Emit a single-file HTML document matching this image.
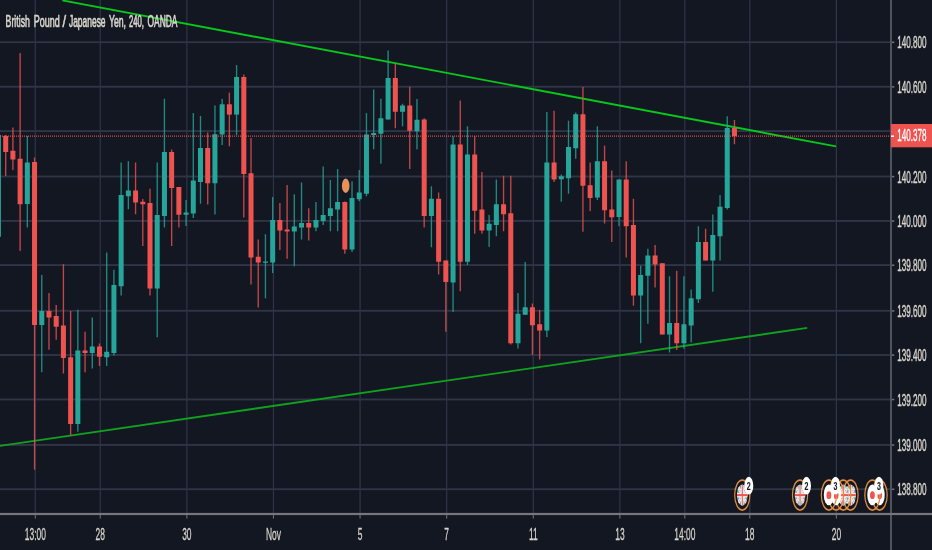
<!DOCTYPE html>
<html lang="en"><head><meta charset="utf-8"><title>GBPJPY chart</title>
<style>html,body{margin:0;padding:0;background:#131722;}body{width:932px;height:550px;overflow:hidden;position:relative;}svg{display:block;position:absolute;left:0;top:0;}text{font-family:"Liberation Sans",Arial,sans-serif;}.t{filter:opacity(0.999);}</style></head><body>
<svg width="932" height="550" viewBox="0 0 932 550">
<rect x="0" y="0" width="932" height="550" fill="#131722"/>
<g fill="#2f3447">
<rect x="0" y="41.25" width="891.00" height="1.90"/>
<rect x="0" y="85.81" width="891.00" height="1.90"/>
<rect x="0" y="130.10" width="891.00" height="1.90"/>
<rect x="0" y="175.55" width="891.00" height="1.90"/>
<rect x="0" y="219.95" width="891.00" height="1.90"/>
<rect x="0" y="264.15" width="891.00" height="1.90"/>
<rect x="0" y="309.85" width="891.00" height="1.90"/>
<rect x="0" y="354.05" width="891.00" height="1.90"/>
<rect x="0" y="398.50" width="891.00" height="1.90"/>
<rect x="0" y="444.00" width="891.00" height="1.90"/>
<rect x="0" y="488.25" width="891.00" height="1.90"/>
<rect x="34.67" y="0" width="1.25" height="514.00"/>
<rect x="99.63" y="0" width="1.25" height="514.00"/>
<rect x="186.23" y="0" width="1.25" height="514.00"/>
<rect x="272.84" y="0" width="1.25" height="514.00"/>
<rect x="359.44" y="0" width="1.25" height="514.00"/>
<rect x="446.04" y="0" width="1.25" height="514.00"/>
<rect x="532.65" y="0" width="1.25" height="514.00"/>
<rect x="619.25" y="0" width="1.25" height="514.00"/>
<rect x="684.20" y="0" width="1.25" height="514.00"/>
<rect x="749.16" y="0" width="1.25" height="514.00"/>
<rect x="835.76" y="0" width="1.25" height="514.00"/>
</g>
<line x1="62.30" y1="0.40" x2="836.00" y2="146.40" stroke="#08c81c" stroke-width="1.90"/>
<line x1="-1.00" y1="446.05" x2="807.20" y2="327.90" stroke="#10a21e" stroke-width="1.90"/>
<g>
<rect x="-2.28" y="135.00" width="1.35" height="101.75" fill="#26a69a" opacity="0.80"/>
<rect x="-4.10" y="135.00" width="5.00" height="101.75" fill="#26a69a"/>
<rect x="5.01" y="135.00" width="1.35" height="41.00" fill="#ef5350" opacity="0.80"/>
<rect x="3.19" y="136.00" width="5.00" height="16.00" fill="#ef5350"/>
<rect x="12.23" y="127.50" width="1.35" height="42.50" fill="#ef5350" opacity="0.80"/>
<rect x="10.40" y="150.75" width="5.00" height="8.75" fill="#ef5350"/>
<rect x="19.44" y="53.00" width="1.35" height="198.00" fill="#ef5350" opacity="0.80"/>
<rect x="17.62" y="158.75" width="5.00" height="45.50" fill="#ef5350"/>
<rect x="26.66" y="136.00" width="1.35" height="91.50" fill="#26a69a" opacity="0.80"/>
<rect x="24.83" y="162.50" width="5.00" height="41.50" fill="#26a69a"/>
<rect x="33.88" y="157.50" width="1.35" height="312.25" fill="#ef5350" opacity="0.80"/>
<rect x="32.05" y="162.00" width="5.00" height="163.00" fill="#ef5350"/>
<rect x="41.09" y="275.00" width="1.35" height="97.25" fill="#26a69a" opacity="0.80"/>
<rect x="39.27" y="311.00" width="5.00" height="14.00" fill="#26a69a"/>
<rect x="48.31" y="293.00" width="1.35" height="56.75" fill="#ef5350" opacity="0.80"/>
<rect x="46.48" y="311.00" width="5.00" height="6.50" fill="#ef5350"/>
<rect x="55.52" y="305.00" width="1.35" height="34.75" fill="#ef5350" opacity="0.80"/>
<rect x="53.70" y="316.00" width="5.00" height="10.75" fill="#ef5350"/>
<rect x="62.74" y="264.25" width="1.35" height="109.25" fill="#ef5350" opacity="0.80"/>
<rect x="60.91" y="325.50" width="5.00" height="32.50" fill="#ef5350"/>
<rect x="69.95" y="311.00" width="1.35" height="124.50" fill="#ef5350" opacity="0.80"/>
<rect x="68.13" y="357.25" width="5.00" height="66.75" fill="#ef5350"/>
<rect x="77.17" y="309.75" width="1.35" height="122.00" fill="#26a69a" opacity="0.80"/>
<rect x="75.34" y="350.50" width="5.00" height="73.50" fill="#26a69a"/>
<rect x="84.38" y="331.75" width="1.35" height="40.50" fill="#ef5350" opacity="0.80"/>
<rect x="82.56" y="350.50" width="5.00" height="2.50" fill="#ef5350"/>
<rect x="91.60" y="317.50" width="1.35" height="51.00" fill="#26a69a" opacity="0.80"/>
<rect x="89.77" y="346.50" width="5.00" height="6.50" fill="#26a69a"/>
<rect x="98.81" y="343.50" width="1.35" height="22.50" fill="#ef5350" opacity="0.80"/>
<rect x="96.99" y="346.50" width="5.00" height="10.25" fill="#ef5350"/>
<rect x="106.03" y="252.50" width="1.35" height="113.50" fill="#26a69a" opacity="0.80"/>
<rect x="104.20" y="351.75" width="5.00" height="5.50" fill="#26a69a"/>
<rect x="113.25" y="269.75" width="1.35" height="85.75" fill="#26a69a" opacity="0.80"/>
<rect x="111.42" y="285.00" width="5.00" height="68.00" fill="#26a69a"/>
<rect x="120.46" y="162.50" width="1.35" height="133.00" fill="#26a69a" opacity="0.80"/>
<rect x="118.64" y="195.00" width="5.00" height="91.25" fill="#26a69a"/>
<rect x="127.68" y="161.25" width="1.35" height="48.00" fill="#26a69a" opacity="0.80"/>
<rect x="125.85" y="190.50" width="5.00" height="5.75" fill="#26a69a"/>
<rect x="134.89" y="162.50" width="1.35" height="51.75" fill="#ef5350" opacity="0.80"/>
<rect x="133.07" y="190.50" width="5.00" height="12.00" fill="#ef5350"/>
<rect x="142.11" y="199.00" width="1.35" height="47.00" fill="#ef5350" opacity="0.80"/>
<rect x="140.28" y="201.75" width="5.00" height="2.50" fill="#ef5350"/>
<rect x="149.32" y="188.75" width="1.35" height="106.75" fill="#ef5350" opacity="0.80"/>
<rect x="147.50" y="203.00" width="5.00" height="85.50" fill="#ef5350"/>
<rect x="156.54" y="162.50" width="1.35" height="174.75" fill="#26a69a" opacity="0.80"/>
<rect x="154.71" y="215.00" width="5.00" height="73.50" fill="#26a69a"/>
<rect x="163.75" y="98.75" width="1.35" height="128.75" fill="#26a69a" opacity="0.80"/>
<rect x="161.93" y="152.00" width="5.00" height="64.00" fill="#26a69a"/>
<rect x="170.97" y="149.50" width="1.35" height="96.50" fill="#ef5350" opacity="0.80"/>
<rect x="169.14" y="152.00" width="5.00" height="36.00" fill="#ef5350"/>
<rect x="178.19" y="187.00" width="1.35" height="40.50" fill="#ef5350" opacity="0.80"/>
<rect x="176.36" y="187.00" width="5.00" height="27.75" fill="#ef5350"/>
<rect x="185.40" y="200.00" width="1.35" height="26.00" fill="#26a69a" opacity="0.80"/>
<rect x="183.58" y="212.50" width="5.00" height="2.25" fill="#26a69a"/>
<rect x="192.62" y="113.00" width="1.35" height="105.00" fill="#26a69a" opacity="0.80"/>
<rect x="190.79" y="180.50" width="5.00" height="33.00" fill="#26a69a"/>
<rect x="199.83" y="115.90" width="1.35" height="87.85" fill="#26a69a" opacity="0.80"/>
<rect x="198.01" y="148.00" width="5.00" height="34.00" fill="#26a69a"/>
<rect x="207.05" y="132.50" width="1.35" height="72.00" fill="#ef5350" opacity="0.80"/>
<rect x="205.22" y="148.00" width="5.00" height="35.25" fill="#ef5350"/>
<rect x="214.26" y="105.40" width="1.35" height="109.10" fill="#26a69a" opacity="0.80"/>
<rect x="212.44" y="134.25" width="5.00" height="49.00" fill="#26a69a"/>
<rect x="221.48" y="99.00" width="1.35" height="46.00" fill="#26a69a" opacity="0.80"/>
<rect x="219.65" y="104.30" width="5.00" height="30.20" fill="#26a69a"/>
<rect x="228.69" y="92.60" width="1.35" height="53.65" fill="#ef5350" opacity="0.80"/>
<rect x="226.87" y="104.30" width="5.00" height="10.30" fill="#ef5350"/>
<rect x="235.91" y="65.00" width="1.35" height="70.00" fill="#26a69a" opacity="0.80"/>
<rect x="234.08" y="77.00" width="5.00" height="37.60" fill="#26a69a"/>
<rect x="243.12" y="74.50" width="1.35" height="143.00" fill="#ef5350" opacity="0.80"/>
<rect x="241.30" y="77.00" width="5.00" height="97.00" fill="#ef5350"/>
<rect x="250.34" y="138.00" width="1.35" height="146.50" fill="#ef5350" opacity="0.80"/>
<rect x="248.51" y="173.25" width="5.00" height="84.25" fill="#ef5350"/>
<rect x="257.56" y="239.50" width="1.35" height="68.10" fill="#ef5350" opacity="0.80"/>
<rect x="255.73" y="256.75" width="5.00" height="5.75" fill="#ef5350"/>
<rect x="264.77" y="234.25" width="1.35" height="64.05" fill="#26a69a" opacity="0.80"/>
<rect x="262.95" y="261.50" width="5.00" height="1.25" fill="#26a69a"/>
<rect x="271.99" y="197.00" width="1.35" height="76.00" fill="#26a69a" opacity="0.80"/>
<rect x="270.16" y="220.00" width="5.00" height="42.50" fill="#26a69a"/>
<rect x="279.20" y="203.00" width="1.35" height="47.00" fill="#ef5350" opacity="0.80"/>
<rect x="277.38" y="220.00" width="5.00" height="10.50" fill="#ef5350"/>
<rect x="286.42" y="185.00" width="1.35" height="73.75" fill="#ef5350" opacity="0.80"/>
<rect x="284.59" y="229.50" width="5.00" height="2.00" fill="#ef5350"/>
<rect x="293.63" y="194.25" width="1.35" height="72.00" fill="#26a69a" opacity="0.80"/>
<rect x="291.81" y="226.50" width="5.00" height="5.00" fill="#26a69a"/>
<rect x="300.85" y="182.50" width="1.35" height="57.00" fill="#26a69a" opacity="0.80"/>
<rect x="299.02" y="223.00" width="5.00" height="4.50" fill="#26a69a"/>
<rect x="308.06" y="208.25" width="1.35" height="32.25" fill="#ef5350" opacity="0.80"/>
<rect x="306.24" y="223.00" width="5.00" height="4.50" fill="#ef5350"/>
<rect x="315.28" y="202.00" width="1.35" height="29.25" fill="#26a69a" opacity="0.80"/>
<rect x="313.45" y="220.00" width="5.00" height="7.50" fill="#26a69a"/>
<rect x="322.50" y="166.50" width="1.35" height="58.50" fill="#26a69a" opacity="0.80"/>
<rect x="320.67" y="215.00" width="5.00" height="6.00" fill="#26a69a"/>
<rect x="329.71" y="180.00" width="1.35" height="51.25" fill="#26a69a" opacity="0.80"/>
<rect x="327.89" y="208.25" width="5.00" height="7.75" fill="#26a69a"/>
<rect x="336.93" y="169.00" width="1.35" height="62.25" fill="#26a69a" opacity="0.80"/>
<rect x="335.10" y="202.00" width="5.00" height="7.50" fill="#26a69a"/>
<rect x="344.14" y="201.50" width="1.35" height="52.25" fill="#ef5350" opacity="0.80"/>
<rect x="342.32" y="202.00" width="5.00" height="47.50" fill="#ef5350"/>
<rect x="351.36" y="181.25" width="1.35" height="70.75" fill="#26a69a" opacity="0.80"/>
<rect x="349.53" y="198.00" width="5.00" height="51.50" fill="#26a69a"/>
<rect x="358.57" y="170.00" width="1.35" height="31.25" fill="#26a69a" opacity="0.80"/>
<rect x="356.75" y="192.50" width="5.00" height="6.75" fill="#26a69a"/>
<rect x="365.79" y="113.00" width="1.35" height="83.25" fill="#26a69a" opacity="0.80"/>
<rect x="363.96" y="134.50" width="5.00" height="59.25" fill="#26a69a"/>
<rect x="373.00" y="89.50" width="1.35" height="59.75" fill="#26a69a" opacity="0.80"/>
<rect x="371.18" y="133.00" width="5.00" height="2.00" fill="#26a69a"/>
<rect x="380.22" y="98.75" width="1.35" height="65.00" fill="#26a69a" opacity="0.80"/>
<rect x="378.39" y="118.25" width="5.00" height="15.50" fill="#26a69a"/>
<rect x="387.43" y="50.50" width="1.35" height="69.00" fill="#26a69a" opacity="0.80"/>
<rect x="385.61" y="78.00" width="5.00" height="41.50" fill="#26a69a"/>
<rect x="394.65" y="63.75" width="1.35" height="64.50" fill="#ef5350" opacity="0.80"/>
<rect x="392.82" y="78.00" width="5.00" height="33.75" fill="#ef5350"/>
<rect x="401.87" y="103.75" width="1.35" height="22.50" fill="#26a69a" opacity="0.80"/>
<rect x="400.04" y="105.50" width="5.00" height="6.25" fill="#26a69a"/>
<rect x="409.08" y="86.75" width="1.35" height="82.25" fill="#ef5350" opacity="0.80"/>
<rect x="407.26" y="105.50" width="5.00" height="25.25" fill="#ef5350"/>
<rect x="416.30" y="99.00" width="1.35" height="50.40" fill="#26a69a" opacity="0.80"/>
<rect x="414.47" y="119.75" width="5.00" height="11.50" fill="#26a69a"/>
<rect x="423.51" y="118.25" width="1.35" height="109.25" fill="#ef5350" opacity="0.80"/>
<rect x="421.69" y="119.50" width="5.00" height="96.50" fill="#ef5350"/>
<rect x="430.73" y="186.25" width="1.35" height="61.00" fill="#26a69a" opacity="0.80"/>
<rect x="428.90" y="198.75" width="5.00" height="17.25" fill="#26a69a"/>
<rect x="437.94" y="192.50" width="1.35" height="82.00" fill="#ef5350" opacity="0.80"/>
<rect x="436.12" y="198.75" width="5.00" height="63.00" fill="#ef5350"/>
<rect x="445.16" y="260.50" width="1.35" height="71.25" fill="#ef5350" opacity="0.80"/>
<rect x="443.33" y="260.50" width="5.00" height="21.50" fill="#ef5350"/>
<rect x="452.37" y="136.25" width="1.35" height="175.75" fill="#26a69a" opacity="0.80"/>
<rect x="450.55" y="144.50" width="5.00" height="138.00" fill="#26a69a"/>
<rect x="459.59" y="100.50" width="1.35" height="190.75" fill="#ef5350" opacity="0.80"/>
<rect x="457.76" y="144.50" width="5.00" height="117.25" fill="#ef5350"/>
<rect x="466.80" y="126.25" width="1.35" height="138.75" fill="#26a69a" opacity="0.80"/>
<rect x="464.98" y="154.50" width="5.00" height="107.25" fill="#26a69a"/>
<rect x="474.02" y="136.25" width="1.35" height="97.50" fill="#ef5350" opacity="0.80"/>
<rect x="472.20" y="154.50" width="5.00" height="56.25" fill="#ef5350"/>
<rect x="481.24" y="172.00" width="1.35" height="61.75" fill="#ef5350" opacity="0.80"/>
<rect x="479.41" y="209.50" width="5.00" height="21.00" fill="#ef5350"/>
<rect x="488.45" y="215.00" width="1.35" height="32.00" fill="#26a69a" opacity="0.80"/>
<rect x="486.63" y="223.75" width="5.00" height="6.75" fill="#26a69a"/>
<rect x="495.67" y="179.50" width="1.35" height="56.75" fill="#26a69a" opacity="0.80"/>
<rect x="493.84" y="204.25" width="5.00" height="20.75" fill="#26a69a"/>
<rect x="502.88" y="175.75" width="1.35" height="55.50" fill="#ef5350" opacity="0.80"/>
<rect x="501.06" y="204.25" width="5.00" height="10.00" fill="#ef5350"/>
<rect x="510.10" y="175.75" width="1.35" height="168.75" fill="#ef5350" opacity="0.80"/>
<rect x="508.27" y="213.25" width="5.00" height="130.00" fill="#ef5350"/>
<rect x="517.31" y="293.00" width="1.35" height="55.50" fill="#26a69a" opacity="0.80"/>
<rect x="515.49" y="313.75" width="5.00" height="29.50" fill="#26a69a"/>
<rect x="524.53" y="262.00" width="1.35" height="53.00" fill="#26a69a" opacity="0.80"/>
<rect x="522.70" y="307.25" width="5.00" height="7.50" fill="#26a69a"/>
<rect x="531.74" y="303.50" width="1.35" height="51.50" fill="#ef5350" opacity="0.80"/>
<rect x="529.92" y="307.25" width="5.00" height="18.00" fill="#ef5350"/>
<rect x="538.96" y="310.00" width="1.35" height="49.50" fill="#ef5350" opacity="0.80"/>
<rect x="537.13" y="324.25" width="5.00" height="6.25" fill="#ef5350"/>
<rect x="546.18" y="112.00" width="1.35" height="225.00" fill="#26a69a" opacity="0.80"/>
<rect x="544.35" y="162.50" width="5.00" height="168.00" fill="#26a69a"/>
<rect x="553.39" y="110.75" width="1.35" height="71.25" fill="#ef5350" opacity="0.80"/>
<rect x="551.57" y="162.50" width="5.00" height="17.00" fill="#ef5350"/>
<rect x="560.61" y="174.50" width="1.35" height="27.25" fill="#26a69a" opacity="0.80"/>
<rect x="558.78" y="176.25" width="5.00" height="3.00" fill="#26a69a"/>
<rect x="567.82" y="120.75" width="1.35" height="73.00" fill="#26a69a" opacity="0.80"/>
<rect x="566.00" y="147.00" width="5.00" height="31.25" fill="#26a69a"/>
<rect x="575.04" y="112.50" width="1.35" height="46.25" fill="#26a69a" opacity="0.80"/>
<rect x="573.21" y="114.25" width="5.00" height="34.00" fill="#26a69a"/>
<rect x="582.25" y="87.00" width="1.35" height="144.75" fill="#ef5350" opacity="0.80"/>
<rect x="580.43" y="114.25" width="5.00" height="71.50" fill="#ef5350"/>
<rect x="589.47" y="162.50" width="1.35" height="48.60" fill="#ef5350" opacity="0.80"/>
<rect x="587.64" y="185.20" width="5.00" height="12.80" fill="#ef5350"/>
<rect x="596.68" y="126.25" width="1.35" height="73.75" fill="#26a69a" opacity="0.80"/>
<rect x="594.86" y="161.25" width="5.00" height="36.25" fill="#26a69a"/>
<rect x="603.90" y="145.60" width="1.35" height="77.90" fill="#ef5350" opacity="0.80"/>
<rect x="602.07" y="161.25" width="5.00" height="49.00" fill="#ef5350"/>
<rect x="611.12" y="170.50" width="1.35" height="71.50" fill="#ef5350" opacity="0.80"/>
<rect x="609.29" y="209.50" width="5.00" height="7.75" fill="#ef5350"/>
<rect x="618.33" y="179.50" width="1.35" height="46.75" fill="#26a69a" opacity="0.80"/>
<rect x="616.51" y="179.50" width="5.00" height="37.50" fill="#26a69a"/>
<rect x="625.55" y="161.25" width="1.35" height="96.25" fill="#ef5350" opacity="0.80"/>
<rect x="623.72" y="179.50" width="5.00" height="46.75" fill="#ef5350"/>
<rect x="632.76" y="198.75" width="1.35" height="107.00" fill="#ef5350" opacity="0.80"/>
<rect x="630.94" y="225.00" width="5.00" height="70.50" fill="#ef5350"/>
<rect x="639.98" y="265.75" width="1.35" height="77.50" fill="#26a69a" opacity="0.80"/>
<rect x="638.15" y="275.00" width="5.00" height="20.50" fill="#26a69a"/>
<rect x="647.19" y="248.75" width="1.35" height="75.00" fill="#26a69a" opacity="0.80"/>
<rect x="645.37" y="255.50" width="5.00" height="20.25" fill="#26a69a"/>
<rect x="654.41" y="245.00" width="1.35" height="42.50" fill="#ef5350" opacity="0.80"/>
<rect x="652.58" y="255.50" width="5.00" height="9.00" fill="#ef5350"/>
<rect x="661.62" y="263.25" width="1.35" height="71.25" fill="#ef5350" opacity="0.80"/>
<rect x="659.80" y="263.25" width="5.00" height="71.25" fill="#ef5350"/>
<rect x="668.84" y="276.25" width="1.35" height="76.25" fill="#26a69a" opacity="0.80"/>
<rect x="667.01" y="323.00" width="5.00" height="11.50" fill="#26a69a"/>
<rect x="676.05" y="270.75" width="1.35" height="79.25" fill="#ef5350" opacity="0.80"/>
<rect x="674.23" y="323.00" width="5.00" height="20.25" fill="#ef5350"/>
<rect x="683.27" y="276.25" width="1.35" height="72.50" fill="#26a69a" opacity="0.80"/>
<rect x="681.44" y="324.25" width="5.00" height="19.00" fill="#26a69a"/>
<rect x="690.49" y="289.50" width="1.35" height="53.00" fill="#26a69a" opacity="0.80"/>
<rect x="688.66" y="298.25" width="5.00" height="27.25" fill="#26a69a"/>
<rect x="697.70" y="226.25" width="1.35" height="76.75" fill="#26a69a" opacity="0.80"/>
<rect x="695.88" y="242.00" width="5.00" height="57.25" fill="#26a69a"/>
<rect x="704.92" y="228.75" width="1.35" height="31.75" fill="#ef5350" opacity="0.80"/>
<rect x="703.09" y="242.00" width="5.00" height="18.50" fill="#ef5350"/>
<rect x="712.13" y="214.50" width="1.35" height="77.25" fill="#26a69a" opacity="0.80"/>
<rect x="710.31" y="235.00" width="5.00" height="25.50" fill="#26a69a"/>
<rect x="719.35" y="195.00" width="1.35" height="65.50" fill="#26a69a" opacity="0.80"/>
<rect x="717.52" y="206.75" width="5.00" height="29.50" fill="#26a69a"/>
<rect x="726.56" y="116.25" width="1.35" height="93.25" fill="#26a69a" opacity="0.80"/>
<rect x="724.74" y="128.00" width="5.00" height="80.00" fill="#26a69a"/>
<rect x="733.78" y="120.00" width="1.35" height="24.25" fill="#ef5350" opacity="0.80"/>
<rect x="731.95" y="128.00" width="5.00" height="8.25" fill="#ef5350"/>
</g>
<ellipse cx="345.7" cy="185.75" rx="3.8" ry="7.2" fill="#e6925a"/>
<line x1="0" y1="136.2" x2="891.0" y2="136.2" stroke="#ef5350" stroke-width="1.3" stroke-dasharray="1 1" opacity="0.9"/>
<rect x="892.00" y="0" width="40.00" height="550" fill="#131722"/>
<rect x="0" y="515.00" width="932" height="35.00" fill="#131722"/>
<rect x="890.00" y="0" width="2" height="550" fill="#50535d"/>
<rect x="0" y="512.90" width="932" height="2.2" fill="#75777f"/>
<rect x="892.00" y="41.55" width="2.3" height="1.5" fill="#74767d"/>
<text class="t" transform="translate(897.30 48.30) scale(0.507 1)" font-size="16.00" text-anchor="start" fill="#d9d6ce" stroke="#d9d6ce" stroke-width="0.32" vector-effect="non-scaling-stroke" font-weight="normal">140.800</text>
<rect x="892.00" y="86.11" width="2.3" height="1.5" fill="#74767d"/>
<text class="t" transform="translate(897.30 92.86) scale(0.507 1)" font-size="16.00" text-anchor="start" fill="#d9d6ce" stroke="#d9d6ce" stroke-width="0.32" vector-effect="non-scaling-stroke" font-weight="normal">140.600</text>
<rect x="892.00" y="175.85" width="2.3" height="1.5" fill="#74767d"/>
<text class="t" transform="translate(897.30 182.60) scale(0.507 1)" font-size="16.00" text-anchor="start" fill="#d9d6ce" stroke="#d9d6ce" stroke-width="0.32" vector-effect="non-scaling-stroke" font-weight="normal">140.200</text>
<rect x="892.00" y="220.25" width="2.3" height="1.5" fill="#74767d"/>
<text class="t" transform="translate(897.30 227.00) scale(0.507 1)" font-size="16.00" text-anchor="start" fill="#d9d6ce" stroke="#d9d6ce" stroke-width="0.32" vector-effect="non-scaling-stroke" font-weight="normal">140.000</text>
<rect x="892.00" y="264.45" width="2.3" height="1.5" fill="#74767d"/>
<text class="t" transform="translate(897.30 271.20) scale(0.507 1)" font-size="16.00" text-anchor="start" fill="#d9d6ce" stroke="#d9d6ce" stroke-width="0.32" vector-effect="non-scaling-stroke" font-weight="normal">139.800</text>
<rect x="892.00" y="310.15" width="2.3" height="1.5" fill="#74767d"/>
<text class="t" transform="translate(897.30 316.90) scale(0.507 1)" font-size="16.00" text-anchor="start" fill="#d9d6ce" stroke="#d9d6ce" stroke-width="0.32" vector-effect="non-scaling-stroke" font-weight="normal">139.600</text>
<rect x="892.00" y="354.35" width="2.3" height="1.5" fill="#74767d"/>
<text class="t" transform="translate(897.30 361.10) scale(0.507 1)" font-size="16.00" text-anchor="start" fill="#d9d6ce" stroke="#d9d6ce" stroke-width="0.32" vector-effect="non-scaling-stroke" font-weight="normal">139.400</text>
<rect x="892.00" y="398.80" width="2.3" height="1.5" fill="#74767d"/>
<text class="t" transform="translate(897.30 405.55) scale(0.507 1)" font-size="16.00" text-anchor="start" fill="#d9d6ce" stroke="#d9d6ce" stroke-width="0.32" vector-effect="non-scaling-stroke" font-weight="normal">139.200</text>
<rect x="892.00" y="444.30" width="2.3" height="1.5" fill="#74767d"/>
<text class="t" transform="translate(897.30 451.05) scale(0.507 1)" font-size="16.00" text-anchor="start" fill="#d9d6ce" stroke="#d9d6ce" stroke-width="0.32" vector-effect="non-scaling-stroke" font-weight="normal">139.000</text>
<rect x="892.00" y="488.55" width="2.3" height="1.5" fill="#74767d"/>
<text class="t" transform="translate(897.30 495.30) scale(0.507 1)" font-size="16.00" text-anchor="start" fill="#d9d6ce" stroke="#d9d6ce" stroke-width="0.32" vector-effect="non-scaling-stroke" font-weight="normal">138.800</text>
<rect x="34.75" y="515.00" width="1.1" height="3.6" fill="#6c6e77"/>
<text class="t" transform="translate(35.30 539.80) scale(0.527 1)" font-size="16.00" text-anchor="middle" fill="#d9d6ce" stroke="#d9d6ce" stroke-width="0.20" vector-effect="non-scaling-stroke" font-weight="normal">13:00</text>
<rect x="99.70" y="515.00" width="1.1" height="3.6" fill="#6c6e77"/>
<text class="t" transform="translate(100.25 539.80) scale(0.527 1)" font-size="16.00" text-anchor="middle" fill="#d9d6ce" stroke="#d9d6ce" stroke-width="0.20" vector-effect="non-scaling-stroke" font-weight="normal">28</text>
<rect x="186.31" y="515.00" width="1.1" height="3.6" fill="#6c6e77"/>
<text class="t" transform="translate(186.86 539.80) scale(0.527 1)" font-size="16.00" text-anchor="middle" fill="#d9d6ce" stroke="#d9d6ce" stroke-width="0.20" vector-effect="non-scaling-stroke" font-weight="normal">30</text>
<rect x="272.91" y="515.00" width="1.1" height="3.6" fill="#6c6e77"/>
<text class="t" transform="translate(273.46 539.80) scale(0.527 1)" font-size="16.00" text-anchor="middle" fill="#d9d6ce" stroke="#d9d6ce" stroke-width="0.20" vector-effect="non-scaling-stroke" font-weight="normal">Nov</text>
<rect x="359.51" y="515.00" width="1.1" height="3.6" fill="#6c6e77"/>
<text class="t" transform="translate(360.06 539.80) scale(0.527 1)" font-size="16.00" text-anchor="middle" fill="#d9d6ce" stroke="#d9d6ce" stroke-width="0.20" vector-effect="non-scaling-stroke" font-weight="normal">5</text>
<rect x="446.12" y="515.00" width="1.1" height="3.6" fill="#6c6e77"/>
<text class="t" transform="translate(446.67 539.80) scale(0.527 1)" font-size="16.00" text-anchor="middle" fill="#d9d6ce" stroke="#d9d6ce" stroke-width="0.20" vector-effect="non-scaling-stroke" font-weight="normal">7</text>
<rect x="532.72" y="515.00" width="1.1" height="3.6" fill="#6c6e77"/>
<text class="t" transform="translate(533.27 539.80) scale(0.527 1)" font-size="16.00" text-anchor="middle" fill="#d9d6ce" stroke="#d9d6ce" stroke-width="0.20" vector-effect="non-scaling-stroke" font-weight="normal">11</text>
<rect x="619.33" y="515.00" width="1.1" height="3.6" fill="#6c6e77"/>
<text class="t" transform="translate(619.88 539.80) scale(0.527 1)" font-size="16.00" text-anchor="middle" fill="#d9d6ce" stroke="#d9d6ce" stroke-width="0.20" vector-effect="non-scaling-stroke" font-weight="normal">13</text>
<rect x="684.28" y="515.00" width="1.1" height="3.6" fill="#6c6e77"/>
<text class="t" transform="translate(684.83 539.80) scale(0.527 1)" font-size="16.00" text-anchor="middle" fill="#d9d6ce" stroke="#d9d6ce" stroke-width="0.20" vector-effect="non-scaling-stroke" font-weight="normal">14:00</text>
<rect x="749.23" y="515.00" width="1.1" height="3.6" fill="#6c6e77"/>
<text class="t" transform="translate(749.78 539.80) scale(0.527 1)" font-size="16.00" text-anchor="middle" fill="#d9d6ce" stroke="#d9d6ce" stroke-width="0.20" vector-effect="non-scaling-stroke" font-weight="normal">18</text>
<rect x="835.84" y="515.00" width="1.1" height="3.6" fill="#6c6e77"/>
<text class="t" transform="translate(836.39 539.80) scale(0.527 1)" font-size="16.00" text-anchor="middle" fill="#d9d6ce" stroke="#d9d6ce" stroke-width="0.20" vector-effect="non-scaling-stroke" font-weight="normal">20</text>
<rect x="891.00" y="124" width="41.00" height="23.3" fill="#ef5350"/>
<rect x="891.00" y="135.4" width="3" height="1.6" fill="#ffffff"/>
<text class="t" transform="translate(897.30 140.90) scale(0.507 1)" font-size="16.00" text-anchor="start" fill="#ffffff" stroke="#ffffff" stroke-width="0.25" vector-effect="non-scaling-stroke" font-weight="normal">140.378</text>
<text class="t" transform="translate(5.60 27.10) scale(0.546 1)" font-size="16.00" text-anchor="start" fill="#d9d6cd" stroke="#d9d6cd" stroke-width="0.55" vector-effect="non-scaling-stroke" font-weight="normal">British</text>
<text class="t" transform="translate(33.80 27.10) scale(0.562 1)" font-size="16.00" text-anchor="start" fill="#d9d6cd" stroke="#d9d6cd" stroke-width="0.55" vector-effect="non-scaling-stroke" font-weight="normal">Pound</text>
<text class="t" transform="translate(62.60 27.10) scale(0.800 1)" font-size="16.00" text-anchor="start" fill="#d9d6cd" stroke="#d9d6cd" stroke-width="0.55" vector-effect="non-scaling-stroke" font-weight="normal">/</text>
<text class="t" transform="translate(68.90 27.10) scale(0.529 1)" font-size="16.00" text-anchor="start" fill="#d9d6cd" stroke="#d9d6cd" stroke-width="0.55" vector-effect="non-scaling-stroke" font-weight="normal">Japanese</text>
<text class="t" transform="translate(108.90 27.10) scale(0.545 1)" font-size="16.00" text-anchor="start" fill="#d9d6cd" stroke="#d9d6cd" stroke-width="0.55" vector-effect="non-scaling-stroke" font-weight="normal">Yen,</text>
<text class="t" transform="translate(129.00 27.10) scale(0.479 1)" font-size="16.00" text-anchor="start" fill="#d9d6cd" stroke="#d9d6cd" stroke-width="0.55" vector-effect="non-scaling-stroke" font-weight="normal">240,</text>
<text class="t" transform="translate(147.50 27.10) scale(0.527 1)" font-size="16.00" text-anchor="start" fill="#d9d6cd" stroke="#d9d6cd" stroke-width="0.55" vector-effect="non-scaling-stroke" font-weight="normal">OANDA</text>
<g><clipPath id="c1"><ellipse cx="742.30" cy="495.10" rx="5.40" ry="10.60"/></clipPath><g clip-path="url(#c1)"><rect x="736.90" y="484.50" width="10.80" height="21.20" fill="#7aa5ad"/><line x1="736.90" y1="484.50" x2="747.70" y2="505.70" stroke="#ececec" stroke-width="2.8"/><line x1="736.90" y1="484.50" x2="747.70" y2="505.70" stroke="#ee7a6a" stroke-width="0.7" stroke-dasharray="1.6 1.4"/><line x1="747.70" y1="484.50" x2="736.90" y2="505.70" stroke="#ececec" stroke-width="2.8"/><line x1="747.70" y1="484.50" x2="736.90" y2="505.70" stroke="#ee7a6a" stroke-width="0.7" stroke-dasharray="1.6 1.4"/><rect x="741.00" y="484.50" width="2.60" height="21.20" fill="#efefef"/><rect x="736.90" y="492.80" width="10.80" height="4.60" fill="#efefef"/><rect x="741.80" y="484.50" width="1.00" height="21.20" fill="#ef5350"/><rect x="736.90" y="494.10" width="10.80" height="2.00" fill="#ef5350"/></g></g><path fill="#e58c3c" fill-rule="evenodd" d="M734.10 495.10a8.2 15.9 0 1 0 16.4 0a8.2 15.9 0 1 0 -16.4 0zM735.30 495.10a7.0 14.1 0 1 0 14.0 0a7.0 14.1 0 1 0 -14.0 0z"/>
<ellipse cx="748.80" cy="485.70" rx="4.5" ry="8.9" fill="#ffffff"/><text class="t" transform="translate(748.80 489.80) scale(0.600 1)" font-size="11.70" text-anchor="middle" fill="#131722" stroke="#131722" stroke-width="0.10" vector-effect="non-scaling-stroke" font-weight="bold">2</text>
<g><clipPath id="c2"><ellipse cx="800.05" cy="495.10" rx="5.40" ry="10.60"/></clipPath><g clip-path="url(#c2)"><rect x="794.65" y="484.50" width="10.80" height="21.20" fill="#7aa5ad"/><line x1="794.65" y1="484.50" x2="805.45" y2="505.70" stroke="#ececec" stroke-width="2.8"/><line x1="794.65" y1="484.50" x2="805.45" y2="505.70" stroke="#ee7a6a" stroke-width="0.7" stroke-dasharray="1.6 1.4"/><line x1="805.45" y1="484.50" x2="794.65" y2="505.70" stroke="#ececec" stroke-width="2.8"/><line x1="805.45" y1="484.50" x2="794.65" y2="505.70" stroke="#ee7a6a" stroke-width="0.7" stroke-dasharray="1.6 1.4"/><rect x="798.75" y="484.50" width="2.60" height="21.20" fill="#efefef"/><rect x="794.65" y="492.80" width="10.80" height="4.60" fill="#efefef"/><rect x="799.55" y="484.50" width="1.00" height="21.20" fill="#ef5350"/><rect x="794.65" y="494.10" width="10.80" height="2.00" fill="#ef5350"/></g></g><path fill="#e58c3c" fill-rule="evenodd" d="M791.85 495.10a8.2 15.9 0 1 0 16.4 0a8.2 15.9 0 1 0 -16.4 0zM793.05 495.10a7.0 14.1 0 1 0 14.0 0a7.0 14.1 0 1 0 -14.0 0z"/>
<ellipse cx="806.50" cy="485.70" rx="4.5" ry="8.9" fill="#ffffff"/><text class="t" transform="translate(806.50 489.80) scale(0.600 1)" font-size="11.70" text-anchor="middle" fill="#131722" stroke="#131722" stroke-width="0.10" vector-effect="non-scaling-stroke" font-weight="bold">2</text>
<g><clipPath id="c3"><ellipse cx="850.50" cy="495.10" rx="5.40" ry="10.60"/></clipPath><g clip-path="url(#c3)"><rect x="845.10" y="484.50" width="10.80" height="21.20" fill="#7aa5ad"/><line x1="845.10" y1="484.50" x2="855.90" y2="505.70" stroke="#ececec" stroke-width="2.8"/><line x1="845.10" y1="484.50" x2="855.90" y2="505.70" stroke="#ee7a6a" stroke-width="0.7" stroke-dasharray="1.6 1.4"/><line x1="855.90" y1="484.50" x2="845.10" y2="505.70" stroke="#ececec" stroke-width="2.8"/><line x1="855.90" y1="484.50" x2="845.10" y2="505.70" stroke="#ee7a6a" stroke-width="0.7" stroke-dasharray="1.6 1.4"/><rect x="849.20" y="484.50" width="2.60" height="21.20" fill="#efefef"/><rect x="845.10" y="492.80" width="10.80" height="4.60" fill="#efefef"/><rect x="850.00" y="484.50" width="1.00" height="21.20" fill="#ef5350"/><rect x="845.10" y="494.10" width="10.80" height="2.00" fill="#ef5350"/></g></g><path fill="#e58c3c" fill-rule="evenodd" d="M842.30 495.10a8.2 15.9 0 1 0 16.4 0a8.2 15.9 0 1 0 -16.4 0zM843.50 495.10a7.0 14.1 0 1 0 14.0 0a7.0 14.1 0 1 0 -14.0 0z"/>
<g><clipPath id="c4"><ellipse cx="843.30" cy="495.10" rx="5.40" ry="10.60"/></clipPath><g clip-path="url(#c4)"><rect x="837.90" y="484.50" width="10.80" height="21.20" fill="#7aa5ad"/><line x1="837.90" y1="484.50" x2="848.70" y2="505.70" stroke="#ececec" stroke-width="2.8"/><line x1="837.90" y1="484.50" x2="848.70" y2="505.70" stroke="#ee7a6a" stroke-width="0.7" stroke-dasharray="1.6 1.4"/><line x1="848.70" y1="484.50" x2="837.90" y2="505.70" stroke="#ececec" stroke-width="2.8"/><line x1="848.70" y1="484.50" x2="837.90" y2="505.70" stroke="#ee7a6a" stroke-width="0.7" stroke-dasharray="1.6 1.4"/><rect x="842.00" y="484.50" width="2.60" height="21.20" fill="#efefef"/><rect x="837.90" y="492.80" width="10.80" height="4.60" fill="#efefef"/><rect x="842.80" y="484.50" width="1.00" height="21.20" fill="#ef5350"/><rect x="837.90" y="494.10" width="10.80" height="2.00" fill="#ef5350"/></g></g><path fill="#e58c3c" fill-rule="evenodd" d="M835.10 495.10a8.2 15.9 0 1 0 16.4 0a8.2 15.9 0 1 0 -16.4 0zM836.30 495.10a7.0 14.1 0 1 0 14.0 0a7.0 14.1 0 1 0 -14.0 0z"/>
<ellipse cx="836.10" cy="494.90" rx="5.10" ry="10.40" fill="#ffffff"/><ellipse cx="836.10" cy="495.20" rx="2.40" ry="3.90" fill="#ef5350"/><path fill="#e58c3c" fill-rule="evenodd" d="M827.90 495.10a8.2 15.9 0 1 0 16.4 0a8.2 15.9 0 1 0 -16.4 0zM829.10 495.10a7.0 14.1 0 1 0 14.0 0a7.0 14.1 0 1 0 -14.0 0z"/>
<ellipse cx="828.90" cy="494.90" rx="5.10" ry="10.40" fill="#ffffff"/><ellipse cx="828.90" cy="495.20" rx="2.40" ry="3.90" fill="#ef5350"/><path fill="#e58c3c" fill-rule="evenodd" d="M820.70 495.10a8.2 15.9 0 1 0 16.4 0a8.2 15.9 0 1 0 -16.4 0zM821.90 495.10a7.0 14.1 0 1 0 14.0 0a7.0 14.1 0 1 0 -14.0 0z"/>
<ellipse cx="835.50" cy="485.60" rx="4.5" ry="8.9" fill="#ffffff"/><text class="t" transform="translate(835.50 489.70) scale(0.600 1)" font-size="11.70" text-anchor="middle" fill="#131722" stroke="#131722" stroke-width="0.10" vector-effect="non-scaling-stroke" font-weight="bold">3</text>
<ellipse cx="879.60" cy="494.90" rx="5.10" ry="10.40" fill="#ffffff"/><ellipse cx="879.60" cy="495.20" rx="2.40" ry="3.90" fill="#ef5350"/><path fill="#e58c3c" fill-rule="evenodd" d="M871.40 495.10a8.2 15.9 0 1 0 16.4 0a8.2 15.9 0 1 0 -16.4 0zM872.60 495.10a7.0 14.1 0 1 0 14.0 0a7.0 14.1 0 1 0 -14.0 0z"/>
<ellipse cx="872.40" cy="494.90" rx="5.10" ry="10.40" fill="#ffffff"/><ellipse cx="872.40" cy="495.20" rx="2.40" ry="3.90" fill="#ef5350"/><path fill="#e58c3c" fill-rule="evenodd" d="M864.20 495.10a8.2 15.9 0 1 0 16.4 0a8.2 15.9 0 1 0 -16.4 0zM865.40 495.10a7.0 14.1 0 1 0 14.0 0a7.0 14.1 0 1 0 -14.0 0z"/>
<ellipse cx="878.90" cy="485.60" rx="4.5" ry="8.9" fill="#ffffff"/><text class="t" transform="translate(878.90 489.70) scale(0.600 1)" font-size="11.70" text-anchor="middle" fill="#131722" stroke="#131722" stroke-width="0.10" vector-effect="non-scaling-stroke" font-weight="bold">3</text>
</svg></body></html>
